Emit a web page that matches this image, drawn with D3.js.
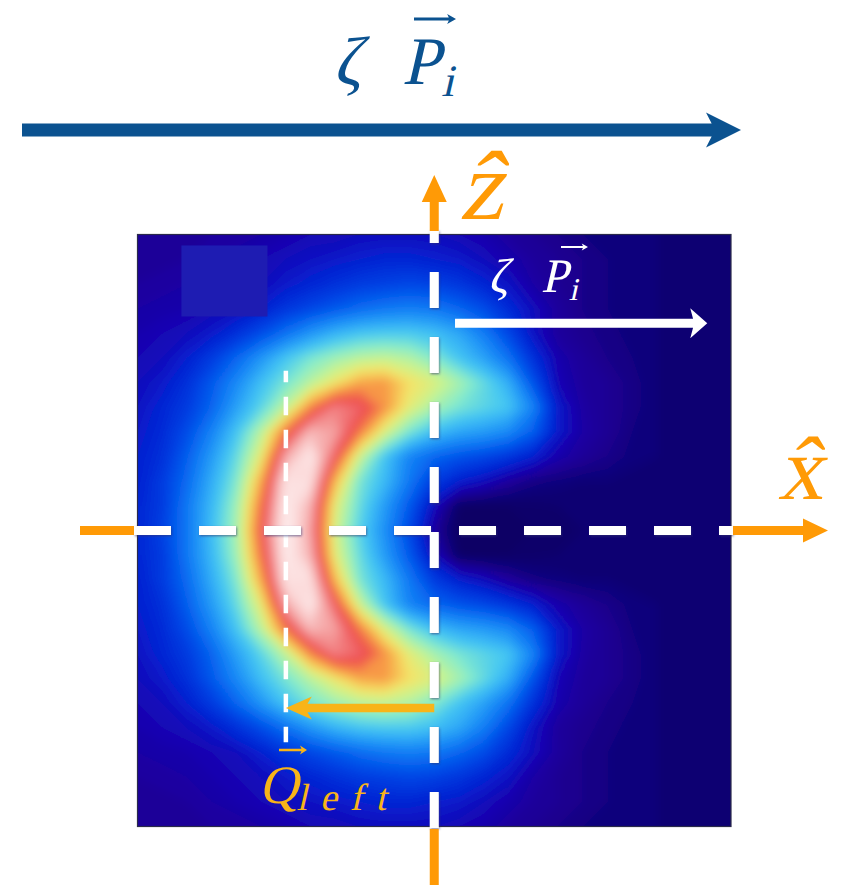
<!DOCTYPE html>
<html>
<head>
<meta charset="utf-8">
<script src="https://cdn.jsdelivr.net/npm/d3@7"></script>
<style>
  html, body { margin: 0; padding: 0; background: #ffffff; }
  svg { display: block; }
  .math { font-family: "Liberation Serif", "DejaVu Serif", serif; font-style: normal; }
</style>
</head>
<body>
<svg id="fig" width="841" height="885"></svg>
<script>
// Momentum density sampled on a 25 x 25 grid.
// Columns run along x̂ from -1 to +1, rows along ẑ from +1 (top) to -1 (bottom).
const density = [
  [0.07,0.07,0.07,0.08,0.08,0.09,0.10,0.11,0.11,0.12,0.12,0.12,0.12,0.11,0.10,0.08,0.07,0.06,0.05,0.045,0.04,0.04,0.035,0.035,0.035],
  [0.07,0.075,0.08,0.09,0.10,0.11,0.12,0.13,0.14,0.15,0.16,0.16,0.15,0.14,0.12,0.10,0.08,0.07,0.06,0.05,0.045,0.04,0.035,0.035,0.035],
  [0.08,0.085,0.09,0.10,0.11,0.12,0.14,0.16,0.18,0.20,0.21,0.22,0.21,0.19,0.16,0.13,0.09,0.07,0.06,0.05,0.045,0.04,0.035,0.035,0.035],
  [0.09,0.095,0.10,0.11,0.12,0.15,0.19,0.22,0.25,0.28,0.30,0.31,0.30,0.27,0.23,0.17,0.12,0.08,0.06,0.05,0.045,0.04,0.035,0.035,0.035],
  [0.10,0.11,0.12,0.14,0.18,0.23,0.29,0.35,0.40,0.43,0.44,0.44,0.42,0.38,0.31,0.22,0.13,0.08,0.065,0.055,0.045,0.04,0.035,0.035,0.035],
  [0.11,0.12,0.15,0.20,0.27,0.35,0.43,0.49,0.53,0.56,0.57,0.55,0.50,0.43,0.37,0.29,0.18,0.10,0.075,0.06,0.05,0.04,0.035,0.035,0.035],
  [0.12,0.14,0.18,0.25,0.33,0.42,0.49,0.56,0.63,0.70,0.71,0.64,0.60,0.54,0.47,0.39,0.24,0.11,0.08,0.07,0.055,0.04,0.035,0.035,0.035],
  [0.13,0.16,0.20,0.27,0.37,0.46,0.57,0.73,0.84,0.81,0.72,0.61,0.54,0.49,0.46,0.43,0.32,0.14,0.085,0.07,0.055,0.04,0.035,0.035,0.035],
  [0.14,0.17,0.23,0.32,0.43,0.56,0.75,0.90,0.87,0.74,0.60,0.49,0.42,0.38,0.36,0.33,0.26,0.14,0.09,0.07,0.05,0.04,0.035,0.035,0.035],
  [0.15,0.18,0.26,0.36,0.47,0.62,0.88,0.97,0.80,0.58,0.43,0.32,0.27,0.24,0.22,0.19,0.15,0.10,0.075,0.06,0.045,0.04,0.035,0.035,0.035],
  [0.15,0.20,0.28,0.39,0.50,0.70,0.96,0.95,0.68,0.49,0.41,0.30,0.20,0.15,0.12,0.08,0.055,0.045,0.04,0.04,0.035,0.035,0.035,0.035,0.035],
  [0.16,0.20,0.30,0.41,0.53,0.75,0.98,0.89,0.61,0.47,0.36,0.25,0.12,0.02,0.015,0.02,0.025,0.03,0.035,0.035,0.035,0.035,0.035,0.035,0.035],
  [0.16,0.21,0.30,0.42,0.54,0.78,0.99,0.87,0.59,0.45,0.34,0.22,0.08,0.01,0.01,0.015,0.02,0.025,0.03,0.03,0.03,0.03,0.03,0.03,0.03],
  [0.16,0.20,0.30,0.41,0.53,0.75,0.98,0.89,0.61,0.47,0.36,0.25,0.12,0.02,0.015,0.02,0.025,0.03,0.035,0.035,0.035,0.035,0.035,0.035,0.035],
  [0.15,0.20,0.28,0.39,0.50,0.70,0.96,0.95,0.68,0.49,0.41,0.30,0.20,0.15,0.12,0.08,0.055,0.045,0.04,0.04,0.035,0.035,0.035,0.035,0.035],
  [0.15,0.18,0.26,0.36,0.47,0.62,0.88,0.97,0.80,0.58,0.43,0.32,0.27,0.24,0.22,0.19,0.15,0.10,0.075,0.06,0.045,0.04,0.035,0.035,0.035],
  [0.14,0.17,0.23,0.32,0.43,0.56,0.75,0.90,0.87,0.74,0.60,0.49,0.42,0.38,0.36,0.33,0.26,0.14,0.09,0.07,0.05,0.04,0.035,0.035,0.035],
  [0.13,0.16,0.20,0.27,0.37,0.46,0.57,0.73,0.84,0.81,0.72,0.61,0.54,0.49,0.46,0.43,0.32,0.14,0.085,0.07,0.055,0.04,0.035,0.035,0.035],
  [0.12,0.14,0.18,0.25,0.33,0.42,0.49,0.56,0.63,0.70,0.71,0.64,0.60,0.54,0.47,0.39,0.24,0.11,0.08,0.07,0.055,0.04,0.035,0.035,0.035],
  [0.11,0.12,0.15,0.20,0.27,0.35,0.43,0.49,0.53,0.56,0.57,0.55,0.50,0.43,0.37,0.29,0.18,0.10,0.075,0.06,0.05,0.04,0.035,0.035,0.035],
  [0.10,0.11,0.12,0.14,0.18,0.23,0.29,0.35,0.40,0.43,0.44,0.44,0.42,0.38,0.31,0.22,0.13,0.08,0.065,0.055,0.045,0.04,0.035,0.035,0.035],
  [0.09,0.095,0.10,0.11,0.12,0.15,0.19,0.22,0.25,0.28,0.30,0.31,0.30,0.27,0.23,0.17,0.12,0.08,0.06,0.05,0.045,0.04,0.035,0.035,0.035],
  [0.08,0.085,0.09,0.10,0.11,0.12,0.14,0.16,0.18,0.20,0.21,0.22,0.21,0.19,0.16,0.13,0.09,0.07,0.06,0.05,0.045,0.04,0.035,0.035,0.035],
  [0.07,0.075,0.08,0.09,0.10,0.11,0.12,0.13,0.14,0.15,0.16,0.16,0.15,0.14,0.12,0.10,0.08,0.07,0.06,0.05,0.045,0.04,0.035,0.035,0.035],
  [0.07,0.07,0.07,0.08,0.08,0.09,0.10,0.11,0.11,0.12,0.12,0.12,0.12,0.11,0.10,0.08,0.07,0.06,0.05,0.045,0.04,0.04,0.035,0.035,0.035]
];

// Jet-like colour ramp that tops out in white
const colorStops = [0.00, 0.03, 0.07, 0.11, 0.15, 0.21, 0.28, 0.35, 0.43, 0.50, 0.57, 0.63, 0.70, 0.78, 0.86, 0.93, 1.00];
const colorRamp  = ["#08005e","#0c0072","#1f0098","#1208b8","#0622d2","#0042e4","#0a6ef2","#2298f8",
                    "#46c8f2","#88ecca","#c8f490","#f4e468","#f8a246","#ee4a4e","#f49c9c","#fbd8d8","#fff6f6"];

// Annotation values in plot coordinates
const qLeftX = -0.5;           // x̂ position of Q_left
const qLeftZ = -0.6;           // ẑ height of the Q_left arrow
const qGuide = [0.54, -0.715]; // extent of the thin guide line at x = Q_left
const pArrow = { x0: 0.07, x1: 0.92, z: 0.7 };
const patch  = { x0: -0.852, x1: -0.562, z0: 0.963, z1: 0.723 };

const svg = d3.select("#fig");
const x = d3.scaleLinear().domain([-1, 1]).range([137.5, 731]);
const z = d3.scaleLinear().domain([-1, 1]).range([826.5, 234.5]);
const color = d3.scaleLinear().domain(colorStops).range(colorRamp)
  .interpolate(d3.interpolateRgb).clamp(true);

const ORANGE = "#ff9a06", GOLD = "#f8b418", NAVY = "#0b5290";

// polygon for a straight arrow with a (possibly swept) head
function arrowPath(x1, y1, x2, y2, t, L, w, k) {
  const dx = x2 - x1, dy = y2 - y1, len = Math.hypot(dx, dy);
  const ux = dx / len, uy = dy / len, vx = -uy, vy = ux;
  const h = t / 2, kk = len - L + k * (1 - h / w);
  const pts = [[0, -h], [kk, -h], [len - L, -w], [len, 0], [len - L, w], [kk, h], [0, h]];
  return d3.line()(pts.map(([u, v]) => [x1 + u * ux + v * vx, y1 + u * uy + v * vy])) + "Z";
}

// slanted (math italic) text group anchored at a baseline point
function mathGroup(x0, y0, slant = -13) {
  return svg.append("g").attr("transform", `translate(${x0},${y0}) skewX(${slant})`);
}

const defs = svg.append("defs");
defs.append("clipPath").attr("id", "plotClip").append("rect")
  .attr("x", x(-1)).attr("y", z(1)).attr("width", x(1) - x(-1)).attr("height", z(-1) - z(1));
defs.append("filter").attr("id", "soften")
  .attr("filterUnits", "userSpaceOnUse").attr("x", 90).attr("y", 190).attr("width", 700).attr("height", 690)
  .append("feGaussianBlur").attr("stdDeviation", 5);
const shadow = defs.append("filter").attr("id", "dashShadow")
  .attr("x", "-20%").attr("y", "-20%").attr("width", "140%").attr("height", "140%");
shadow.append("feDropShadow").attr("dx", 0.8).attr("dy", 1.2).attr("stdDeviation", 0.8)
  .attr("flood-color", "#303070").attr("flood-opacity", 0.6);

// ---- heat map: filled contour bands of the density grid ----
const nCols = density[0].length, nRows = density.length;
const bands = d3.contours().size([nCols, nRows])
  .thresholds(d3.range(0, 1.0001, 0.01))(density.flat());
const gx = d3.scaleLinear().domain([0.5, nCols - 0.5]).range([x(-1), x(1)]);
const gy = d3.scaleLinear().domain([0.5, nRows - 0.5]).range([z(1), z(-1)]);
const gridPath = d3.geoPath(d3.geoTransform({
  point(px, py) { this.stream.point(gx(px), gy(py)); }
}));

const heat = svg.append("g").attr("clip-path", "url(#plotClip)");
heat.append("rect").attr("x", x(-1)).attr("y", z(1))
  .attr("width", x(1) - x(-1)).attr("height", z(-1) - z(1)).attr("fill", color(0.035));
heat.append("g").attr("filter", "url(#soften)")
  .selectAll("path").data(bands).join("path")
  .attr("d", gridPath).attr("fill", d => color(d.value));
heat.append("rect")
  .attr("x", x(patch.x0)).attr("y", z(patch.z0))
  .attr("width", x(patch.x1) - x(patch.x0)).attr("height", z(patch.z1) - z(patch.z0))
  .attr("fill", "#1e1cb2");
svg.append("rect").attr("x", x(-1)).attr("y", z(1))
  .attr("width", x(1) - x(-1)).attr("height", z(-1) - z(1))
  .attr("fill", "none").attr("stroke", "#2a2a4a").attr("stroke-width", 1.2);

// thin guide at x = Q_left
svg.append("line")
  .attr("x1", x(qLeftX)).attr("x2", x(qLeftX)).attr("y1", z(qGuide[0])).attr("y2", z(qGuide[1]))
  .attr("stroke", "#ffffff").attr("stroke-width", 4.5)
  .attr("stroke-dasharray", "18.5 14.5").attr("stroke-dashoffset", 7);

// Q_left arrow
svg.append("path")
  .attr("d", arrowPath(x(0), z(qLeftZ), x(qLeftX), z(qLeftZ), 8.5, 26, 11.5, 7))
  .attr("fill", GOLD);

// dashed axes through the origin
const axes = svg.append("g").attr("filter", "url(#dashShadow)");
axes.append("line")
  .attr("x1", 134).attr("x2", 733).attr("y1", z(0)).attr("y2", z(0))
  .attr("stroke", "#ffffff").attr("stroke-width", 9).attr("stroke-dasharray", "37 28");
axes.append("line")
  .attr("x1", x(0)).attr("x2", x(0)).attr("y1", 230).attr("y2", 828)
  .attr("stroke", "#ffffff").attr("stroke-width", 9)
  .attr("stroke-dasharray", "36 29").attr("stroke-dashoffset", 23);

// orange axis arrows and stubs
svg.append("path").attr("d", arrowPath(733, z(0), 828, z(0), 9, 25, 12, 0)).attr("fill", ORANGE);
svg.append("path").attr("d", arrowPath(x(0), 231, x(0), 175, 9, 27, 12.5, 0)).attr("fill", ORANGE);
svg.append("line").attr("x1", 80).attr("x2", 134).attr("y1", z(0)).attr("y2", z(0))
  .attr("stroke", ORANGE).attr("stroke-width", 9);
svg.append("line").attr("x1", x(0)).attr("x2", x(0)).attr("y1", 829).attr("y2", 885)
  .attr("stroke", ORANGE).attr("stroke-width", 9);

// axis labels (hatted unit vectors)
mathGroup(459, 219).append("text").attr("class", "math")
  .attr("font-size", 98).attr("fill", ORANGE).text("ẑ");
mathGroup(778, 499, -11).append("text").attr("class", "math")
  .attr("font-size", 90).attr("fill", ORANGE).text("x\u0302");

// white ζ P_i arrow inside the map
svg.append("path")
  .attr("d", arrowPath(x(pArrow.x0), z(pArrow.z), x(pArrow.x1), z(pArrow.z), 9, 17, 15, 4))
  .attr("fill", "#ffffff");
function mathLabel(o) {
  const t = mathGroup(o.zx, o.base).append("text").attr("class", "math")
    .attr("font-size", o.size).attr("fill", o.fill);
  t.append("tspan").text("ζ");
  t.append("tspan").attr("x", o.px - o.zx).text("P");
  t.append("tspan").attr("font-size", o.size * 0.66).attr("dx", o.size * 0.06).attr("dy", o.size * 0.17).text("i");
  svg.append("path").attr("d", arrowPath(o.ax0, o.ay, o.ax1, o.ay, o.size * 0.045, o.size * 0.13, o.size * 0.075, o.size * 0.035))
    .attr("fill", o.fill);
}
mathLabel({ zx: 488, px: 541, base: 292, size: 48, fill: "#ffffff", ax0: 561, ax1: 588, ay: 247 });

// Q_left label
const qText = mathGroup(259, 803).append("text").attr("class", "math").attr("fill", GOLD);
qText.append("tspan").attr("font-size", 54).text("Q");
qText.append("tspan").attr("font-size", 38).attr("dy", 7).attr("letter-spacing", 13).text("left");
svg.append("path").attr("d", arrowPath(279, 750, 307, 750, 2.4, 7, 4.5, 2)).attr("fill", GOLD);

// incoming momentum arrow above the map
svg.append("path").attr("d", arrowPath(22, 130, 741, 130, 13, 35, 17.5, 9)).attr("fill", NAVY);
mathLabel({ zx: 333, px: 402, base: 84, size: 68, fill: NAVY, ax0: 414, ax1: 456, ay: 19 });
</script>
</body>
</html>
